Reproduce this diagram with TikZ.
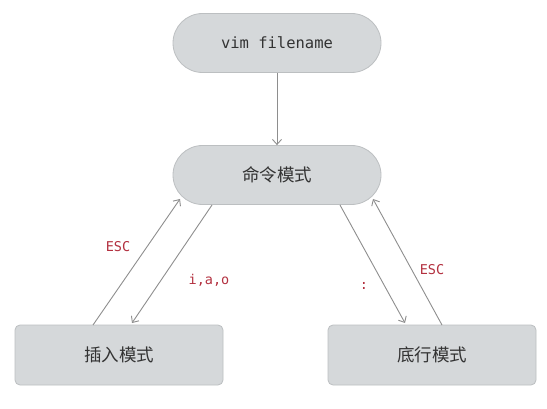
\documentclass[tikz,border=0pt]{standalone}
\usepackage{fontspec}
\setmonofont{DejaVu Sans Mono}
\newfontfamily\cjk{Noto Sans CJK SC}
\usetikzlibrary{arrows.meta}
\definecolor{boxfill}{HTML}{D5D8DA}
\definecolor{boxline}{HTML}{BCBFC1}
\definecolor{txt}{HTML}{333333}
\definecolor{lbl}{HTML}{B3303F}
\definecolor{arrc}{HTML}{8E8E8E}
\tikzset{
  pill/.style={draw=boxline, fill=boxfill, line width=0.8pt, rounded corners=29.5pt,
    minimum width=208pt, minimum height=59pt, text=txt, inner sep=0pt},
  boxnode/.style={draw=boxline, fill=boxfill, line width=0.8pt, rounded corners=5pt,
    minimum width=208pt, minimum height=60pt, text=txt, inner sep=0pt},
  arr/.style={draw=arrc, line width=0.9pt, -{Straight Barb[length=5pt,width=9pt]}},
  lab/.style={text=lbl, font=\ttfamily\fontsize{13.5}{14}\selectfont, inner sep=0pt}
}
\begin{document}
\begin{tikzpicture}[x=1pt,y=-1pt]
\useasboundingbox[fill=white] (0,0) rectangle (547,409);
\node[pill, font=\ttfamily\fontsize{15.5}{16}\selectfont] (vim) at (277,43) {vim filename};
\node[pill, font=\cjk\fontsize{17.5}{18}\selectfont] (cmd) at (277,175) {命令模式};
\node[boxnode, font=\cjk\fontsize{17.5}{18}\selectfont] (ins) at (119,355) {插入模式};
\node[boxnode, font=\cjk\fontsize{17.5}{18}\selectfont] (bot) at (432,355) {底行模式};
\draw[arr] (vim) -- (cmd);
\coordinate (insOut) at (93,325);
\coordinate (cmdInL) at (180,199);
\coordinate (cmdOutL) at (212,205);
\coordinate (insIn) at (132,323);
\coordinate (cmdOutR) at (340,205);
\coordinate (botIn) at (405,323);
\coordinate (botOut) at (442,325);
\coordinate (cmdInR) at (373,199);
\draw[arr] (insOut) -- (cmdInL);
\draw[arr] (cmdOutL) -- (insIn);
\draw[arr] (cmdOutR) -- (botIn);
\draw[arr] (botOut) -- (cmdInR);
\node[lab] (l1) at (118,247) {ESC};
\node[lab] (l2) at (209,280) {i,a,o};
\node[lab] (l3) at (364,286) {:};
\node[lab] (l4) at (432,270) {ESC};
\end{tikzpicture}
\end{document}
